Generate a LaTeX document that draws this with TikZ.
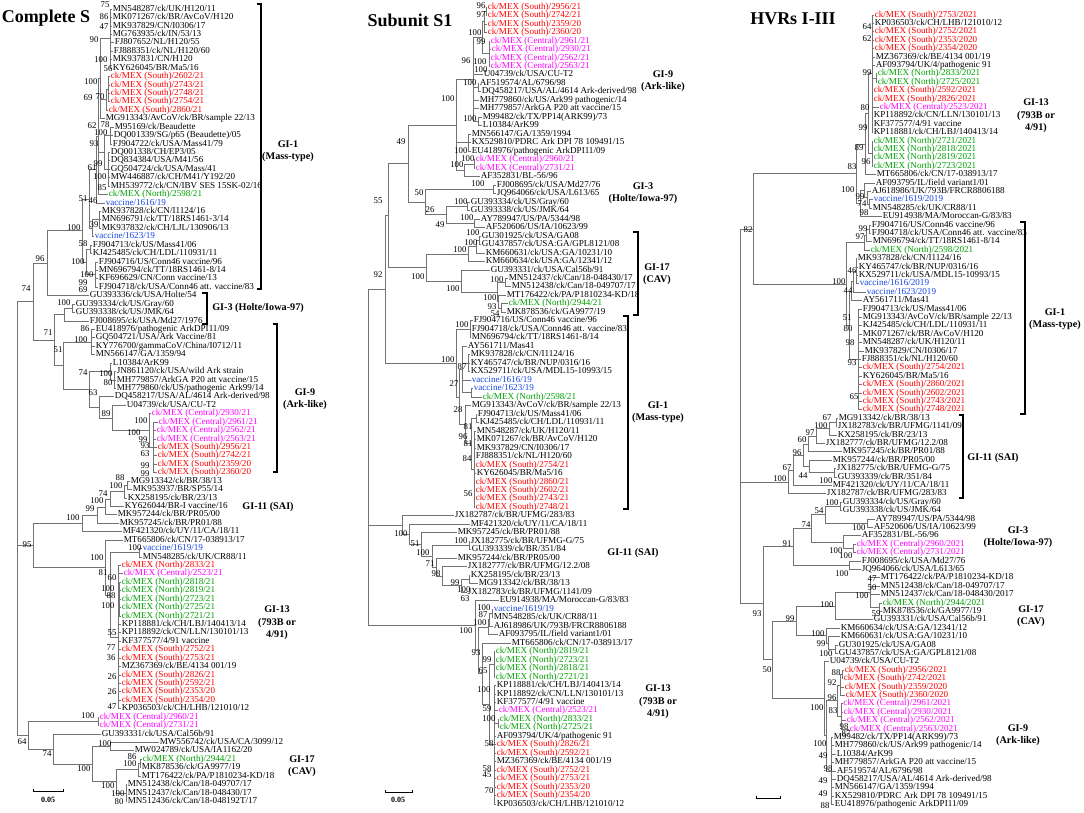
\documentclass[tikz,border=0pt]{standalone}
\usepackage{fontspec}
\setmainfont{Liberation Serif}
\usetikzlibrary{calc}
\definecolor{mexR}{RGB}{255,0,0}
\definecolor{mexG}{RGB}{0,160,0}
\definecolor{mexM}{RGB}{255,0,255}
\definecolor{vacB}{RGB}{20,70,230}
\newcount\bsn
\newcommand\Lf[5]{%
  \pgfmathsetmacro\yy{\Yo+(#3-1)*\Dy}%
  \coordinate (#1) at (#2,\yy);%
  \node[lab,#4] (#1t) at (#1) {#5};}
\newcommand\Cl[3]{%
  \foreach \kid [count=\i] in {#3} {\ifnum\i=1 \xdef\cfirst{\kid}\fi \xdef\clast{\kid}}%
  \path let \p1=(\cfirst), \p2=(\clast) in coordinate (#1) at ({#2pt},{0.5*\y1+0.5*\y2});%
  \foreach \kid in {#3} {\draw[br] (#1) |- (\kid);}}
\newcommand\Bs[3]{\global\advance\bsn by 1 \node[bsl] (bs\the\bsn) at (#1,#2) {#3};}
\tikzset{
 lab/.style={anchor=west, inner sep=0.6pt, font=\fontsize{9.1}{9.1}\selectfont, text height=6.1pt, text depth=1.8pt},
 bsl/.style={anchor=east, inner sep=0.3pt, font=\fontsize{8.8}{8.8}\selectfont, text height=6pt, text depth=0pt},
 br/.style={draw=black!55, line width=0.7pt},
 brk/.style={draw=black, line width=1.3pt},
 grp/.style={align=center, font=\bfseries\fontsize{10.2}{12.5}\selectfont, inner sep=0pt},
 ttl/.style={font=\bfseries\fontsize{18}{18}\selectfont, inner sep=0pt},
 sclab/.style={font=\bfseries\fontsize{8}{8}\selectfont, inner sep=0pt},
 cK/.style={text=black}, cR/.style={text=mexR}, cG/.style={text=mexG},
 cM/.style={text=mexM}, cB/.style={text=vacB}
}
\begin{document}
\begin{tikzpicture}[x=1pt,y=-1pt]
\useasboundingbox[fill=white] (0,0) rectangle (1084,813);
% ================= Tree A : Complete S =================
\node[ttl] (titleA) at (46,18) {Complete S};
\def\Yo{9}\def\Dy{8.43}
\Lf{a1}{112}{1}{cK}{MN548287/ck/UK/H120/11}
\Lf{a2}{112}{2}{cK}{MK071267/ck/BR/AvCoV/H120}
\Lf{a3}{112}{3}{cK}{MK937829/CN/I0306/17}
\Lf{a4}{112}{4}{cK}{MG763935/ck/IN/53/13}
\Lf{a5}{114}{5}{cK}{FJ807652/NL/H120/55}
\Lf{a6}{113}{6}{cK}{FJ888351/ck/NL/H120/60}
\Lf{a7}{112}{7}{cK}{MK937831/CN/H120}
\Lf{a8}{112}{8}{cK}{KY626045/BR/Ma5/16}
\Lf{a9}{110}{9}{cR}{ck/MEX (South)/2602/21}
\Lf{a10}{110}{10}{cR}{ck/MEX (South)/2743/21}
\Lf{a11}{110}{11}{cR}{ck/MEX (South)/2748/21}
\Lf{a12}{110}{12}{cR}{ck/MEX (South)/2754/21}
\Lf{a13}{108}{13}{cR}{ck/MEX (South)/2860/21}
\Lf{a14}{105}{14}{cK}{MG913343/AvCoV/ck/BR/sample 22/13}
\Lf{a15}{114}{15}{cK}{M95169/ck/Beaudette}
\Lf{a16}{113}{16}{cK}{DQ001339/SG/p65 (Beaudette)/05}
\Lf{a17}{112}{17}{cK}{FJ904722/ck/USA/Mass41/79}
\Lf{a18}{110}{18}{cK}{DQ001338/CH/EP3/05}
\Lf{a19}{110}{19}{cK}{DQ834384/USA/M41/56}
\Lf{a20}{110}{20}{cK}{GQ504724/ck/USA/Mass/41}
\Lf{a21}{110}{21}{cK}{MW446887/ck/CH/M41/Y192/20}
\Lf{a22}{110}{22}{cK}{MH539772/ck/CN/IBV SES 15SK-02/16}
\Lf{a23}{108}{23}{cG}{ck/MEX (North)/2598/21}
\Lf{a24}{105}{24}{cB}{vaccine/1616/19}
\Lf{a25}{101}{25}{cK}{MK937828/ck/CN/I1124/16}
\Lf{a26}{101}{26}{cK}{MN696791/ck/TT/18RS1461-3/14}
\Lf{a27}{101}{27}{cK}{MK937832/ck/CH/LJL/130906/13}
\Lf{a28}{94}{28}{cB}{vaccine/1623/19}
\Lf{a29}{92}{29}{cK}{FJ904713/ck/US/Mass41/06}
\Lf{a30}{92}{30}{cK}{KJ425485/ck/CH/LDL/110931/11}
\Lf{a31}{98}{31}{cK}{FJ904716/US/Conn46 vaccine/96}
\Lf{a32}{98}{32}{cK}{MN696794/ck/TT/18RS1461-8/14}
\Lf{a33}{98}{33}{cK}{KF696629/CN/Conn vaccine/13}
\Lf{a34}{98}{34}{cK}{FJ904718/ck/USA/Conn46 att. vaccine/83}
\Lf{a35}{89}{35}{cK}{GU393336/ck/USA/Holte/54}
\Lf{a36}{75}{36}{cK}{GU393334/ck/US/Gray/60}
\Lf{a37}{75}{37}{cK}{GU393338/ck/US/JMK/64}
\Lf{a38}{89}{38}{cK}{FJ008695/ck/USA/Md27/1976}
\Lf{a39}{95}{39}{cK}{EU418976/pathogenic ArkDPI11/09}
\Lf{a40}{95}{40}{cK}{GQ504721/USA/Ark Vaccine/81}
\Lf{a41}{95}{41}{cK}{KY776700/gammaCoV/China/I0712/11}
\Lf{a42}{95}{42}{cK}{MN566147/GA/1359/94}
\Lf{a43}{112}{43}{cK}{L10384/ArK99}
\Lf{a44}{116}{44}{cK}{JN861120/ck/USA/wild Ark strain}
\Lf{a45}{116}{45}{cK}{MH779857/ArkGA P20 att vaccine/15}
\Lf{a46}{116}{46}{cK}{MH779860/ck/US/pathogenic Ark99/14}
\Lf{a47}{114}{47}{cK}{DQ458217/USA/AL/4614 Ark-derived/98}
\Lf{a48}{126}{48}{cK}{U04739/ck/USA/CU-T2}
\Lf{a49}{151}{49}{cM}{ck/MEX (Central)/2930/21}
\Lf{a50}{158}{50}{cM}{ck/MEX (Central)/2961/21}
\Lf{a51}{156}{51}{cM}{ck/MEX (Central)/2562/21}
\Lf{a52}{156}{52}{cM}{ck/MEX (Central)/2563/21}
\Lf{a53}{157}{53}{cR}{ck/MEX (South)/2956/21}
\Lf{a54}{157}{54}{cR}{ck/MEX (South)/2742/21}
\Lf{a55}{157}{55}{cR}{ck/MEX (South)/2359/20}
\Lf{a56}{157}{56}{cR}{ck/MEX (South)/2360/20}
\Lf{a57}{130}{57}{cK}{MG913342/ck/BR/38/13}
\Lf{a58}{132}{58}{cK}{MK953937/BR/SP55/14}
\Lf{a59}{127}{59}{cK}{KX258195/ck/BR/23/13}
\Lf{a60}{124}{60}{cK}{KY626044/BR-I vaccine/16}
\Lf{a61}{117}{61}{cK}{MK957244/ck/BR/PR05/00}
\Lf{a62}{119}{62}{cK}{MK957245/ck/BR/PR01/88}
\Lf{a63}{122}{63}{cK}{MF421320/ck/UY/11/CA/18/11}
\Lf{a64}{123}{64}{cK}{MT665806/ck/CN/17-038913/17}
\Lf{a65}{142}{65}{cB}{vaccine/1619/19}
\Lf{a66}{142}{66}{cK}{MN548285/ck/UK/CR88/11}
\Lf{a67}{121}{67}{cR}{ck/MEX (North)/2833/21}
\Lf{a68}{123}{68}{cM}{ck/MEX (Central)/2523/21}
\Lf{a69}{121}{69}{cG}{ck/MEX (North)/2818/21}
\Lf{a70}{121}{70}{cG}{ck/MEX (North)/2819/21}
\Lf{a71}{121}{71}{cG}{ck/MEX (North)/2723/21}
\Lf{a72}{121}{72}{cG}{ck/MEX (North)/2725/21}
\Lf{a73}{121}{73}{cG}{ck/MEX (North)/2721/21}
\Lf{a74}{121}{74}{cK}{KP118881/ck/CH/LBJ/140413/14}
\Lf{a75}{121}{75}{cK}{KP118892/ck/CN/LLN/130101/13}
\Lf{a76}{121}{76}{cK}{KF377577/4/91 vaccine}
\Lf{a77}{121}{77}{cR}{ck/MEX (South)/2752/21}
\Lf{a78}{121}{78}{cR}{ck/MEX (South)/2753/21}
\Lf{a79}{121}{79}{cK}{MZ367369/ck/BE/4134 001/19}
\Lf{a80}{121}{80}{cR}{ck/MEX (South)/2826/21}
\Lf{a81}{121}{81}{cR}{ck/MEX (South)/2592/21}
\Lf{a82}{121}{82}{cR}{ck/MEX (South)/2353/20}
\Lf{a83}{121}{83}{cR}{ck/MEX (South)/2354/20}
\Lf{a84}{121}{84}{cK}{KP036503/ck/CH/LHB/121010/12}
\Lf{a85}{99}{85}{cM}{ck/MEX (Central)/2960/21}
\Lf{a86}{99}{86}{cM}{ck/MEX (Central)/2731/21}
\Lf{a87}{101}{87}{cK}{GU393331/ck/USA/Cal56b/91}
\Lf{a88}{159}{88}{cK}{MW556742/ck/USA/CA/3099/12}
\Lf{a89}{134}{89}{cK}{MW024789/ck/USA/IA1162/20}
\Lf{a90}{142}{90}{cG}{ck/MEX (North)/2944/21}
\Lf{a91}{141}{91}{cK}{MK878536/ck/GA9977/19}
\Lf{a92}{141}{92}{cK}{MT176422/ck/PA/P1810234-KD/18}
\Lf{a93}{127}{93}{cK}{MN512438/ck/Can/18-049707/17}
\Lf{a94}{127}{94}{cK}{MN512437/ck/Can/18-048430/17}
\Lf{a95}{127}{95}{cK}{MN512436/ck/Can/18-048192T/17}
\Cl{A1}{110}{a1,a2,a3,a4,a5,a6,a7,a8}
\Cl{A2}{108.5}{a9,a10,a11,a12}
\Cl{A3}{106}{A2,a13}
\Cl{A4}{100}{A1,A3,a14}
\Cl{A5}{110}{a15,a16,a17}
\Cl{A6}{108}{a18,a19,a20,a21,a22}
\Cl{A7}{104}{A5,A6}
\Cl{A8}{98}{A4,A7,a23}
\Cl{A9}{96}{A8,a24}
\Cl{A10}{99}{a25,a26,a27}
\Cl{A11}{92}{A10,a28}
\Cl{A12}{89}{A9,A11}
\Cl{A13}{90}{a29,a30}
\Cl{A14}{95}{a31,a32,a33,a34}
\Cl{A15}{86}{A13,A14}
\Cl{A16}{82}{A12,A15}
\Cl{A17}{47}{A16,a35}
\Cl{A18}{72}{a36,a37}
\Cl{A19}{64}{A18,a38}
\Cl{A20}{91}{a39,a40,a41,a42}
\Cl{A21}{114}{a44,a45,a46}
\Cl{A22}{110}{a43,A21}
\Cl{A23}{153}{a50,a51,a52,a53,a54,a55,a56}
\Cl{A24}{149}{a49,A23}
\Cl{A25}{112}{a48,A24}
\Cl{A26}{99}{a47,A25}
\Cl{A27}{89}{A22,A26}
\Cl{A28}{63}{A20,A27}
\Cl{A29}{54}{A19,A28}
\Cl{A30}{33}{A17,A29}
\Cl{A31}{127}{a57,a58}
\Cl{A32}{124}{A31,a59}
\Cl{A33}{110}{A32,a60}
\Cl{A34}{105}{A33,a61}
\Cl{A35}{97}{A34,a62}
\Cl{A36}{82}{A35,a63}
\Cl{A37}{139}{a65,a66}
\Cl{A38}{119.5}{a69,a70,a71,a72,a73}
\Cl{A39}{118}{a67,a68,A38,a74,a75,a76,a77,a78,a79,a80,a81,a82,a83,a84}
\Cl{A40}{110}{A37,A39}
\Cl{A41}{105}{a64,A40}
\Cl{A42}{33}{A36,A41}
\Cl{A43}{98}{a85,a86}
\Cl{A44}{110}{a88,a89}
\Cl{A45}{140}{a90,a91}
\Cl{A46}{138}{A45,a92}
\Cl{A47}{126}{a93,a94,a95}
\Cl{A48}{116}{A46,A47}
\Cl{A49}{92}{A44,A48}
\Cl{A50}{53}{a87,A49}
\Cl{A51}{28}{A43,A50}
\Cl{A52}{17}{A30,A42,A51}
\Bs{110}{5}{75}\Bs{109}{17}{86}\Bs{109}{27}{47}\Bs{99}{40}{90}\Bs{108}{60}{100}
\Bs{113}{69}{56}\Bs{98}{82}{100}\Bs{93}{98}{69}\Bs{105}{97}{70}\Bs{97}{126}{62}
\Bs{110}{125}{78}\Bs{108}{133}{100}\Bs{99}{144}{93}\Bs{103}{164}{99}\Bs{97}{168}{61}
\Bs{107}{177}{100}\Bs{107}{188}{85}\Bs{88}{199}{51}\Bs{98}{201}{46}\Bs{81}{227}{100}
\Bs{99}{225}{39}\Bs{88}{243}{58}\Bs{45}{258}{96}\Bs{85}{261}{100}\Bs{94}{274}{100}
\Bs{88}{282}{99}\Bs{88}{289}{69}\Bs{31}{288}{74}\Bs{71}{302}{100}\Bs{53}{332}{71}
\Bs{90}{328}{86}\Bs{88}{339}{100}\Bs{63}{349}{51}\Bs{88}{372}{74}\Bs{113}{373}{100}
\Bs{113}{382}{80}\Bs{98}{392}{63}\Bs{111}{413}{89}\Bs{148}{420}{100}\Bs{141}{432}{100}
\Bs{148}{439}{99}\Bs{150}{445}{93}\Bs{150}{453}{63}\Bs{150}{465}{99}\Bs{150}{473}{99}
\Bs{125}{477}{88}\Bs{123}{485}{100}\Bs{108}{493}{74}\Bs{104}{500}{100}\Bs{95}{508}{99}
\Bs{80}{517}{100}\Bs{32}{544}{95}\Bs{142}{547}{100}\Bs{104}{557}{100}\Bs{108}{572}{81}
\Bs{117}{577}{60}\Bs{115}{588}{100}\Bs{116}{595}{88}\Bs{115}{605}{100}\Bs{117}{632}{55}
\Bs{116}{647}{77}\Bs{116}{657}{36}\Bs{117}{676}{26}\Bs{117}{691}{26}\Bs{117}{706}{47}
\Bs{95}{715}{100}\Bs{27}{741}{64}\Bs{52}{753}{74}\Bs{112}{743}{100}\Bs{91}{768}{100}
\Bs{137}{756}{86}\Bs{137}{763}{100}\Bs{115}{785}{100}\Bs{125}{793}{100}\Bs{124}{801}{80}
\draw[brk] (257,4) -- (261,4) -- (261,289) -- (257,289);
\draw[brk] (202,293) -- (207,293) -- (207,324) -- (202,324);
\draw[brk] (273,324) -- (277,324) -- (277,472) -- (273,472);
\node[grp] (gA1) at (288,151) {GI-1\\(Mass-type)};
\node[grp] (gA3) at (258,308) {GI-3 (Holte/Iowa-97)};
\node[grp] (gA9) at (305,399) {GI-9\\(Ark-like)};
\node[grp] (gA11) at (268,507) {GI-11 (SAI)};
\node[grp] (gA13) at (277,623) {GI-13\\(793B or\\4/91)};
\node[grp] (gA17) at (302,766) {GI-17\\(CAV)};
\draw[br,draw=black] (33,788.5) -- (33,791) -- (63,791) -- (63,788.5);
\node[sclab] (scA) at (48,800) {0.05};
% ================= Tree B : Subunit S1 =================
\node[ttl] (titleB) at (410,20) {Subunit S1};
\def\Yo{7}\def\Dy{8.48}
\Lf{b1}{487}{1}{cR}{ck/MEX (South)/2956/21}
\Lf{b2}{487}{2}{cR}{ck/MEX (South)/2742/21}
\Lf{b3}{487}{3}{cR}{ck/MEX (South)/2359/20}
\Lf{b4}{487}{4}{cR}{ck/MEX (South)/2360/20}
\Lf{b5}{490}{5}{cM}{ck/MEX (Central)/2961/21}
\Lf{b6}{491}{6}{cM}{ck/MEX (Central)/2930/21}
\Lf{b7}{490}{7}{cM}{ck/MEX (Central)/2562/21}
\Lf{b8}{490}{8}{cM}{ck/MEX (Central)/2563/21}
\Lf{b9}{483}{9}{cK}{U04739/ck/USA/CU-T2}
\Lf{b10}{479}{10}{cK}{AF519574/AL/6796/98}
\Lf{b11}{481}{11}{cK}{DQ458217/USA/AL/4614 Ark-derived/98}
\Lf{b12}{479}{12}{cK}{MH779860/ck/US/Ark99 pathogenic/14}
\Lf{b13}{479}{13}{cK}{MH779857/ArkGA P20 att vaccine/15}
\Lf{b14}{482}{14}{cK}{M99482/ck/TX/PP14(ARK99)/73}
\Lf{b15}{482}{15}{cK}{L10384/ArK99}
\Lf{b16}{471}{16}{cK}{MN566147/GA/1359/1994}
\Lf{b17}{471}{17}{cK}{KX529810/PDRC Ark DPI 78 109491/15}
\Lf{b18}{471}{18}{cK}{EU418976/pathogenic ArkDPI11/09}
\Lf{b19}{475}{19}{cM}{ck/MEX (Central)/2960/21}
\Lf{b20}{475}{20}{cM}{ck/MEX (Central)/2731/21}
\Lf{b21}{480}{21}{cK}{AF352831/BL-56/96}
\Lf{b22}{496}{22}{cK}{FJ008695/ck/USA/Md27/76}
\Lf{b23}{496}{23}{cK}{JQ964066/ck/USA/L613/65}
\Lf{b24}{470}{24}{cK}{GU393334/ck/US/Gray/60}
\Lf{b25}{470}{25}{cK}{GU393338/ck/US/JMK/64}
\Lf{b26}{480}{26}{cK}{AY789947/US/PA/5344/98}
\Lf{b27}{485}{27}{cK}{AF520606/US/IA/10623/99}
\Lf{b28}{481}{28}{cK}{GU301925/ck/USA/GA08}
\Lf{b29}{481}{29}{cK}{GU437857/ck/USA:GA/GPL8121/08}
\Lf{b30}{485}{30}{cK}{KM660631/ck/USA:GA/10231/10}
\Lf{b31}{485}{31}{cK}{KM660634/ck/USA:GA/12341/12}
\Lf{b32}{490}{32}{cK}{GU393331/ck/USA/Cal56b/91}
\Lf{b33}{508}{33}{cK}{MN512437/ck/Can/18-048430/17}
\Lf{b34}{511}{34}{cK}{MN512438/ck/Can/18-049707/17}
\Lf{b35}{506}{35}{cK}{MT176422/ck/PA/P1810234-KD/18}
\Lf{b36}{508}{36}{cG}{ck/MEX (North)/2944/21}
\Lf{b37}{506}{37}{cK}{MK878536/ck/GA9977/19}
\Lf{b38}{473}{38}{cK}{FJ904716/US/Conn46 vaccine/96}
\Lf{b39}{471}{39}{cK}{FJ904718/ck/USA/Conn46 att. vaccine/83}
\Lf{b40}{471}{40}{cK}{MN696794/ck/TT/18RS1461-8/14}
\Lf{b41}{467}{41}{cK}{AY561711/Mas41}
\Lf{b42}{470}{42}{cK}{MK937828/ck/CN/I1124/16}
\Lf{b43}{470}{43}{cK}{KY465747/ck/BR/NUP/0316/16}
\Lf{b44}{470}{44}{cK}{KX529711/ck/USA/MDL15-10993/15}
\Lf{b45}{471}{45}{cB}{vaccine/1616/19}
\Lf{b46}{473}{46}{cB}{vaccine/1623/19}
\Lf{b47}{482}{47}{cG}{ck/MEX (North)/2598/21}
\Lf{b48}{471}{48}{cK}{MG913343/AvCoV/ck/BR/sample 22/13}
\Lf{b49}{477}{49}{cK}{FJ904713/ck/US/Mass41/06}
\Lf{b50}{479}{50}{cK}{KJ425485/ck/CH/LDL/110931/11}
\Lf{b51}{476}{51}{cK}{MN548287/ck/UK/H120/11}
\Lf{b52}{476}{52}{cK}{MK071267/ck/BR/AvCoV/H120}
\Lf{b53}{476}{53}{cK}{MK937829/CN/I0306/17}
\Lf{b54}{475}{54}{cK}{FJ888351/ck/NL/H120/60}
\Lf{b55}{475}{55}{cR}{ck/MEX (South)/2754/21}
\Lf{b56}{476}{56}{cK}{KY626045/BR/Ma5/16}
\Lf{b57}{475}{57}{cR}{ck/MEX (South)/2860/21}
\Lf{b58}{475}{58}{cR}{ck/MEX (South)/2602/21}
\Lf{b59}{475}{59}{cR}{ck/MEX (South)/2743/21}
\Lf{b60}{475}{60}{cR}{ck/MEX (South)/2748/21}
\Lf{b61}{454}{61}{cK}{JX182787/ck/BR/UFMG/283/83}
\Lf{b62}{470}{62}{cK}{MF421320/ck/UY/11/CA/18/11}
\Lf{b63}{457}{63}{cK}{MK957245/ck/BR/PR01/88}
\Lf{b64}{470}{64}{cK}{JX182775/ck/BR/UFMG-G/75}
\Lf{b65}{471}{65}{cK}{GU393339/ck/BR/351/84}
\Lf{b66}{457}{66}{cK}{MK957244/ck/BR/PR05/00}
\Lf{b67}{467}{67}{cK}{JX182777/ck/BR/UFMG/12.2/08}
\Lf{b68}{470}{68}{cK}{KX258195/ck/BR/23/13}
\Lf{b69}{478}{69}{cK}{MG913342/ck/BR/38/13}
\Lf{b70}{467}{70}{cK}{JX182783/ck/BR/UFMG/1141/09}
\Lf{b71}{499}{71}{cK}{EU914938/MA/Moroccan-G/83/83}
\Lf{b72}{493}{72}{cB}{vaccine/1619/19}
\Lf{b73}{493}{73}{cK}{MN548285/ck/UK/CR88/11}
\Lf{b74}{493}{74}{cK}{AJ618986/UK/793B/FRCR8806188}
\Lf{b75}{498}{75}{cK}{AF093795/IL/field variant1/01}
\Lf{b76}{511}{76}{cK}{MT665806/ck/CN/17-038913/17}
\Lf{b77}{495}{77}{cG}{ck/MEX (North)/2819/21}
\Lf{b78}{495}{78}{cG}{ck/MEX (North)/2723/21}
\Lf{b79}{495}{79}{cG}{ck/MEX (North)/2818/21}
\Lf{b80}{495}{80}{cG}{ck/MEX (North)/2721/21}
\Lf{b81}{496}{81}{cK}{KP118881/ck/CH/LBJ/140413/14}
\Lf{b82}{496}{82}{cK}{KP118892/ck/CN/LLN/130101/13}
\Lf{b83}{496}{83}{cK}{KF377577/4/91 vaccine}
\Lf{b84}{498}{84}{cM}{ck/MEX (Central)/2523/21}
\Lf{b85}{499}{85}{cG}{ck/MEX (North)/2833/21}
\Lf{b86}{499}{86}{cG}{ck/MEX (North)/2725/21}
\Lf{b87}{496}{87}{cK}{AF093794/UK/4/pathogenic 91}
\Lf{b88}{496}{88}{cR}{ck/MEX (South)/2826/21}
\Lf{b89}{496}{89}{cR}{ck/MEX (South)/2592/21}
\Lf{b90}{496}{90}{cK}{MZ367369/ck/BE/4134 001/19}
\Lf{b91}{496}{91}{cR}{ck/MEX (South)/2752/21}
\Lf{b92}{496}{92}{cR}{ck/MEX (South)/2753/21}
\Lf{b93}{496}{93}{cR}{ck/MEX (South)/2353/20}
\Lf{b94}{496}{94}{cR}{ck/MEX (South)/2354/20}
\Lf{b95}{496}{95}{cK}{KP036503/ck/CH/LHB/121010/12}
\Cl{B1}{486}{b1,b2}
\Cl{B2}{484.5}{B1,b3,b4}
\Cl{B3}{489}{b5,b6,b7,b8}
\Cl{B4}{482}{B2,B3}
\Cl{B5}{478}{b10,b11}
\Cl{B6}{478}{b14,b15}
\Cl{B7}{473}{B4,b9,B5,b12,b13,B6}
\Cl{B8}{468}{b16,b17,b18}
\Cl{B9}{474}{b19,b20}
\Cl{B10}{464}{B9,b21}
\Cl{B11}{456}{B7,B8,B10}
\Cl{B12}{493}{b22,b23}
\Cl{B13}{467}{b24,b25}
\Cl{B14}{474}{b26,b27}
\Cl{B15}{446}{B13,B14}
\Cl{B16}{425}{B12,B15}
\Cl{B17}{408}{B11,B16}
\Cl{B18}{479}{b28,b29}
\Cl{B19}{476}{B18,b30}
\Cl{B20}{468}{B19,b31}
\Cl{B21}{505}{b33,b34}
\Cl{B22}{501}{b36,b37}
\Cl{B23}{498}{b35,B22}
\Cl{B24}{497}{B21,B23}
\Cl{B25}{461}{b32,B24}
\Cl{B26}{426}{B20,B25}
\Cl{B27}{388}{B17,B26}
\Cl{B28}{470}{b38,b39,b40}
\Cl{B29}{468}{b42,b43,b44}
\Cl{B30}{471}{b46,b47}
\Cl{B31}{462}{b41,B29,b45,B30}
\Cl{B32}{476}{b49,b50}
\Cl{B33}{474}{b51,b52,b53,b54,b55,b56,b57,b58,b59,b60}
\Cl{B34}{471}{B32,B33}
\Cl{B35}{465}{b48,B34}
\Cl{B36}{459}{B31,B35}
\Cl{B37}{456}{B28,B36}
\Cl{B38}{385}{B27,B37}
\Cl{B39}{469}{b68,b69}
\Cl{B40}{461}{B39,b70}
\Cl{B41}{442}{b67,B40}
\Cl{B42}{436}{b66,B41}
\Cl{B43}{469}{b64,b65}
\Cl{B44}{432}{B43,B42}
\Cl{B45}{421}{b63,B44}
\Cl{B46}{409}{b62,B45}
\Cl{B47}{402}{b61,B46}
\Cl{B48}{492}{b72,b73}
\Cl{B49}{489}{B48,b74}
\Cl{B50}{488}{B49,b75}
\Cl{B51}{494}{b77,b78,b79,b80}
\Cl{B52}{498}{b85,b86}
\Cl{B53}{494}{b81,b82,b83,b84,B52,b87,b88,b89,b90,b91,b92,b93,b94,b95}
\Cl{B54}{489}{B51,B53}
\Cl{B55}{482}{b76,B54}
\Cl{B56}{478}{B50,B55}
\Cl{B57}{475}{b71,B56}
\Cl{B58}{368}{B38,B47,B57}
\Bs{486}{6}{96}\Bs{486}{15}{97}\Bs{482}{33}{100}\Bs{486}{42}{99}\Bs{487}{62}{100}
\Bs{488}{70}{100}\Bs{471}{61}{96}\Bs{477}{83}{100}\Bs{455}{99}{100}\Bs{477}{119}{100}
\Bs{406}{142}{49}\Bs{468}{151}{100}\Bs{475}{159}{100}\Bs{464}{165}{100}\Bs{383}{201}{55}
\Bs{424}{193}{50}\Bs{485}{184}{100}\Bs{468}{202}{100}\Bs{435}{209}{26}\Bs{445}{224}{49}
\Bs{474}{218}{100}\Bs{480}{233}{100}\Bs{478}{242}{100}\Bs{467}{249}{100}\Bs{383}{274}{92}
\Bs{425}{276}{100}\Bs{504}{279}{100}\Bs{460}{288}{100}\Bs{497}{297}{100}\Bs{497}{306}{93}
\Bs{500}{313}{54}\Bs{469}{324}{100}\Bs{455}{359}{100}\Bs{467}{366}{87}\Bs{459}{383}{27}
\Bs{463}{409}{28}\Bs{473}{426}{81}\Bs{468}{436}{96}\Bs{473}{443}{81}\Bs{472}{458}{84}
\Bs{473}{493}{56}\Bs{408}{533}{100}\Bs{420}{543}{51}\Bs{468}{540}{100}\Bs{430}{552}{100}
\Bs{435}{563}{71}\Bs{441}{573}{98}\Bs{460}{582}{99}\Bs{471}{589}{100}\Bs{470}{598}{63}
\Bs{491}{607}{100}\Bs{488}{614}{87}\Bs{487}{622}{100}\Bs{473}{630}{100}\Bs{481}{652}{93}
\Bs{492}{659}{99}\Bs{488}{670}{65}\Bs{491}{689}{100}\Bs{492}{708}{59}\Bs{496}{718}{100}
\Bs{494}{743}{58}\Bs{492}{768}{58}\Bs{492}{774}{45}\Bs{494}{790}{70}
\draw[brk] (633,232) -- (638,232) -- (638,315) -- (633,315);
\draw[brk] (623,316) -- (628,316) -- (628,509) -- (623,509);
\node[grp] (gB9) at (663,81) {GI-9\\(Ark-like)};
\node[grp] (gB3) at (643,193) {GI-3\\(Holte/Iowa-97)};
\node[grp] (gB17) at (657,274) {GI-17\\(CAV)};
\node[grp] (gB1) at (658,412) {GI-1\\(Mass-type)};
\node[grp] (gB11) at (633,553) {GI-11 (SAI)};
\node[grp] (gB13) at (658,702) {GI-13\\(793B or\\4/91)};
\draw[br,draw=black] (385,789.5) -- (385,792) -- (412,792) -- (412,789.5);
\node[sclab] (scB) at (398,800) {0.05};
% ================= Tree C : HVRs I-III =================
\node[ttl] (titleC) at (793,19) {HVRs I-III};
\def\Yo{15}\def\Dy{8.40}
\Lf{c1}{874}{1}{cR}{ck/MEX (South)/2753/2021}
\Lf{c2}{874}{2}{cK}{KP036503/ck/CH/LHB/121010/12}
\Lf{c3}{874}{3}{cR}{ck/MEX (South)/2752/2021}
\Lf{c4}{874}{4}{cR}{ck/MEX (South)/2353/2020}
\Lf{c5}{874}{5}{cR}{ck/MEX (South)/2354/2020}
\Lf{c6}{875}{6}{cK}{MZ367369/ck/BE/4134 001/19}
\Lf{c7}{875}{7}{cK}{AF093794/UK/4/pathogenic 91}
\Lf{c8}{877}{8}{cG}{ck/MEX (North)/2833/2021}
\Lf{c9}{877}{9}{cG}{ck/MEX (North)/2725/2021}
\Lf{c10}{873}{10}{cR}{ck/MEX (South)/2592/2021}
\Lf{c11}{873}{11}{cR}{ck/MEX (South)/2826/2021}
\Lf{c12}{879}{12}{cM}{ck/MEX (Central)/2523/2021}
\Lf{c13}{873}{13}{cK}{KP118892/ck/CN/LLN/130101/13}
\Lf{c14}{873}{14}{cK}{KF377577/4/91 vaccine}
\Lf{c15}{873}{15}{cK}{KP118881/ck/CH/LBJ/140413/14}
\Lf{c16}{873}{16}{cG}{ck/MEX (North)/2721/2021}
\Lf{c17}{873}{17}{cG}{ck/MEX (North)/2818/2021}
\Lf{c18}{873}{18}{cG}{ck/MEX (North)/2819/2021}
\Lf{c19}{873}{19}{cG}{ck/MEX (North)/2723/2021}
\Lf{c20}{876}{20}{cK}{MT665806/ck/CN/17-038913/17}
\Lf{c21}{875}{21}{cK}{AF093795/IL/field variant1/01}
\Lf{c22}{871}{22}{cK}{AJ618986/UK/793B/FRCR8806188}
\Lf{c23}{873}{23}{cB}{vaccine/1619/2019}
\Lf{c24}{872}{24}{cK}{MN548285/ck/UK/CR88/11}
\Lf{c25}{882}{25}{cK}{EU914938/MA/Moroccan-G/83/83}
\Lf{c26}{871}{26}{cK}{FJ904716/US/Conn46 vaccine/96}
\Lf{c27}{871}{27}{cK}{FJ904718/ck/USA/Conn46 att. vaccine/83}
\Lf{c28}{872}{28}{cK}{MN696794/ck/TT/18RS1461-8/14}
\Lf{c29}{870}{29}{cG}{ck/MEX (North)/2598/2021}
\Lf{c30}{857}{30}{cK}{MK937828/ck/CN/I1124/16}
\Lf{c31}{858}{31}{cK}{KY465747/ck/BR/NUP/0316/16}
\Lf{c32}{858}{32}{cK}{KX529711/ck/USA/MDL15-10993/15}
\Lf{c33}{859}{33}{cB}{vaccine/1616/2019}
\Lf{c34}{866}{34}{cB}{vaccine/1623/2019}
\Lf{c35}{862}{35}{cK}{AY561711/Mas41}
\Lf{c36}{862}{36}{cK}{FJ904713/ck/US/Mass41/06}
\Lf{c37}{862}{37}{cK}{MG913343/AvCoV/ck/BR/sample 22/13}
\Lf{c38}{862}{38}{cK}{KJ425485/ck/CH/LDL/110931/11}
\Lf{c39}{862}{39}{cK}{MK071267/ck/BR/AvCoV/H120}
\Lf{c40}{862}{40}{cK}{MN548287/ck/UK/H120/11}
\Lf{c41}{864}{41}{cK}{MK937829/CN/I0306/17}
\Lf{c42}{861}{42}{cK}{FJ888351/ck/NL/H120/60}
\Lf{c43}{862}{43}{cR}{ck/MEX (South)/2754/2021}
\Lf{c44}{862}{44}{cK}{KY626045/BR/Ma5/16}
\Lf{c45}{862}{45}{cR}{ck/MEX (South)/2860/2021}
\Lf{c46}{862}{46}{cR}{ck/MEX (South)/2602/2021}
\Lf{c47}{862}{47}{cR}{ck/MEX (South)/2743/2021}
\Lf{c48}{862}{48}{cR}{ck/MEX (South)/2748/2021}
\Lf{c49}{838}{49}{cK}{MG913342/ck/BR/38/13}
\Lf{c50}{837}{50}{cK}{JX182783/ck/BR/UFMG/1141/09}
\Lf{c51}{837}{51}{cK}{KX258195/ck/BR/23/13}
\Lf{c52}{825}{52}{cK}{JX182777/ck/BR/UFMG/12.2/08}
\Lf{c53}{842}{53}{cK}{MK957245/ck/BR/PR01/88}
\Lf{c54}{832}{54}{cK}{MK957244/ck/BR/PR05/00}
\Lf{c55}{836}{55}{cK}{JX182775/ck/BR/UFMG-G/75}
\Lf{c56}{837}{56}{cK}{GU393339/ck/BR/351/84}
\Lf{c57}{832}{57}{cK}{MF421320/ck/UY/11/CA/18/11}
\Lf{c58}{826}{58}{cK}{JX182787/ck/BR/UFMG/283/83}
\Lf{c59}{842}{59}{cK}{GU393334/ck/US/Gray/60}
\Lf{c60}{842}{60}{cK}{GU393338/ck/US/JMK/64}
\Lf{c61}{875}{61}{cK}{AY789947/US/PA/5344/98}
\Lf{c62}{873}{62}{cK}{AF520606/US/IA/10623/99}
\Lf{c63}{861}{63}{cK}{AF352831/BL-56/96}
\Lf{c64}{856}{64}{cM}{ck/MEX (Central)/2960/2021}
\Lf{c65}{856}{65}{cM}{ck/MEX (Central)/2731/2021}
\Lf{c66}{861}{66}{cK}{FJ008695/ck/USA/Md27/76}
\Lf{c67}{861}{67}{cK}{JQ964066/ck/USA/L613/65}
\Lf{c68}{880}{68}{cK}{MT176422/ck/PA/P1810234-KD/18}
\Lf{c69}{880}{69}{cK}{MN512438/ck/Can/18-049707/17}
\Lf{c70}{880}{70}{cK}{MN512437/ck/Can/18-048430/2017}
\Lf{c71}{882}{71}{cG}{ck/MEX (North)/2944/2021}
\Lf{c72}{882}{72}{cK}{MK878536/ck/GA9977/19}
\Lf{c73}{873}{73}{cK}{GU393331/ck/USA/Cal56b/91}
\Lf{c74}{840}{74}{cK}{KM660634/ck/USA:GA/12341/12}
\Lf{c75}{840}{75}{cK}{KM660631/ck/USA:GA/10231/10}
\Lf{c76}{838}{76}{cK}{GU301925/ck/USA/GA08}
\Lf{c77}{838}{77}{cK}{GU437857/ck/USA:GA/GPL8121/08}
\Lf{c78}{829}{78}{cK}{U04739/ck/USA/CU-T2}
\Lf{c79}{844}{79}{cR}{ck/MEX (South)/2956/2021}
\Lf{c80}{843}{80}{cR}{ck/MEX (South)/2742/2021}
\Lf{c81}{844}{81}{cR}{ck/MEX (South)/2359/2020}
\Lf{c82}{845}{82}{cR}{ck/MEX (South)/2360/2020}
\Lf{c83}{842.5}{83}{cM}{ck/MEX (Central)/2961/2021}
\Lf{c84}{843}{84}{cM}{ck/MEX (Central)/2930/2021}
\Lf{c85}{846}{85}{cM}{ck/MEX (Central)/2562/2021}
\Lf{c86}{849}{86}{cM}{ck/MEX (Central)/2563/2021}
\Lf{c87}{833}{87}{cK}{M99482/ck/TX/PP14(ARK99)/73}
\Lf{c88}{834}{88}{cK}{MH779860/ck/US/Ark99 pathogenic/14}
\Lf{c89}{836}{89}{cK}{L10384/ArK99}
\Lf{c90}{834}{90}{cK}{MH779857/ArkGA P20 att vaccine/15}
\Lf{c91}{836}{91}{cK}{AF519574/AL/6796/98}
\Lf{c92}{836}{92}{cK}{DQ458217/USA/AL/4614 Ark-derived/98}
\Lf{c93}{834}{93}{cK}{MN566147/GA/1359/1994}
\Lf{c94}{834}{94}{cK}{KX529810/PDRC Ark DPI 78 109491/15}
\Lf{c95}{834}{95}{cK}{EU418976/pathogenic ArkDPI11/09}
\Cl{C1}{876}{c8,c9}
\Cl{C2}{872}{c1,c2,c3,c4,c5,c6,c7,C1,c10,c11,c12,c13,c14,c15}
\Cl{C3}{872}{c16,c17,c18,c19}
\Cl{C4}{868}{C2,C3}
\Cl{C5}{865}{C4,c20}
\Cl{C7}{869}{c23,c24}
\Cl{C8}{867}{c22,C7}
\Cl{C9}{864}{c21,C8}
\Cl{C10}{860}{C9,c25}
\Cl{C11}{856}{C5,C10}
\Cl{C12}{869}{c26,c27}
\Cl{C13}{866}{C12,c28}
\Cl{C14}{864}{C13,c29}
\Cl{C15}{856}{c30,c31,c32,c33}
\Cl{C17}{853}{C15,c34}
\Cl{C18}{851}{C17,c35}
\Cl{C19}{858}{c36,c37,c38,c39,c40,c41,c42,c43,c44,c45,c46,c47,c48}
\Cl{C20}{849}{C18,C19}
\Cl{C21}{846}{C14,C20}
\Cl{C22}{753}{C11,C21}
\Cl{C23}{836}{c49,c50}
\Cl{C24}{829}{C23,c51}
\Cl{C25}{816}{C24,c52}
\Cl{C26}{808}{C25,c53}
\Cl{C27}{834}{c55,c56}
\Cl{C28}{809}{c54,C27}
\Cl{C29}{803}{C26,C28}
\Cl{C30}{793}{C29,c57}
\Cl{C31}{788}{C30,c58}
\Cl{C32}{840}{c59,c60}
\Cl{C33}{867}{c61,c62}
\Cl{C34}{825}{C32,C33}
\Cl{C35}{853}{c64,c65}
\Cl{C36}{843}{c63,C35}
\Cl{C37}{811}{C34,C36}
\Cl{C38}{849}{c66,c67}
\Cl{C39}{793}{C37,C38}
\Cl{C40}{879}{c71,c72}
\Cl{C41}{870}{c68,c69,c70,C40}
\Cl{C43}{835}{C41,c73}
\Cl{C45}{835}{c76,c77}
\Cl{C46}{828}{c75,C45}
\Cl{C47}{826}{c74,C46}
\Cl{C48}{796}{C43,C47}
\Cl{C49}{842}{c79,c80}
\Cl{C50}{840}{C49,c81,c82}
\Cl{C51}{841.5}{c83,c84,c85,c86}
\Cl{C52}{837}{C50,C51}
\Cl{C53}{831}{c87,c88,c89,c90,c91,c92,c93,c94,c95}
\Cl{C54}{826}{C52,C53}
\Cl{C55}{824}{c78,C54}
\Cl{C56}{772}{C48,C55}
\Cl{C57}{763}{C39,C56}
\Cl{C60}{740}{C22,C31,C57}
\Bs{872}{27}{64}\Bs{872}{39}{62}\Bs{872}{73}{99}\Bs{870}{108}{80}\Bs{868}{128}{99}
\Bs{864}{148}{89}\Bs{871}{162}{96}\Bs{857}{167}{83}\Bs{855}{190}{100}\Bs{865}{197}{99}
\Bs{867}{204}{74}\Bs{869}{212}{98}\Bs{753}{230}{82}\Bs{868}{228}{99}\Bs{865}{237}{97}
\Bs{857}{270}{46}\Bs{846}{281}{100}\Bs{853}{290}{44}\Bs{852}{317}{51}\Bs{853}{328}{80}
\Bs{855}{342}{98}\Bs{857}{362}{93}\Bs{859}{396}{65}\Bs{832}{417}{67}\Bs{828}{425}{100}
\Bs{815}{432}{97}\Bs{807}{439}{60}\Bs{802}{452}{96}\Bs{792}{467}{67}\Bs{787}{478}{100}
\Bs{808}{475}{44}\Bs{833}{480}{100}\Bs{839}{502}{100}\Bs{824}{510}{54}\Bs{811}{524}{74}
\Bs{866}{527}{100}\Bs{792}{543}{91}\Bs{843}{550}{100}\Bs{853}{555}{100}\Bs{849}{573}{100}
\Bs{877}{578}{47}\Bs{877}{587}{50}\Bs{869}{595}{100}\Bs{834}{604}{100}\Bs{762}{613}{93}
\Bs{795}{618}{99}\Bs{881}{613}{59}\Bs{825}{633}{100}\Bs{826}{643}{99}\Bs{833}{653}{100}
\Bs{772}{669}{50}\Bs{841}{672}{88}\Bs{837}{682}{92}\Bs{837}{697}{96}\Bs{838}{710}{83}
\Bs{824}{707}{100}\Bs{849}{726}{98}\Bs{851}{733}{87}\Bs{827}{743}{100}\Bs{828}{755}{49}
\Bs{833}{768}{98}\Bs{828}{780}{49}\Bs{828}{793}{49}\Bs{830}{805}{88}
\draw[brk] (1020,222) -- (1025,222) -- (1025,414) -- (1020,414);
\draw[brk] (959,415) -- (963,415) -- (963,498) -- (959,498);
\node[grp] (gC13) at (1036,116) {GI-13\\(793B or\\4/91)};
\node[grp] (gC1) at (1055,319) {GI-1\\(Mass-type)};
\node[grp] (gC11) at (993,458) {GI-11 (SAI)};
\node[grp] (gC3) at (1018,537) {GI-3\\(Holte/Iowa-97)};
\node[grp] (gC17) at (1031,616) {GI-17\\(CAV)};
\node[grp] (gC9) at (1018,735) {GI-9\\(Ark-like)};
\draw[br,draw=black] (756,795.5) -- (756,798) -- (780,798) -- (780,795.5);
\end{tikzpicture}
\end{document}
